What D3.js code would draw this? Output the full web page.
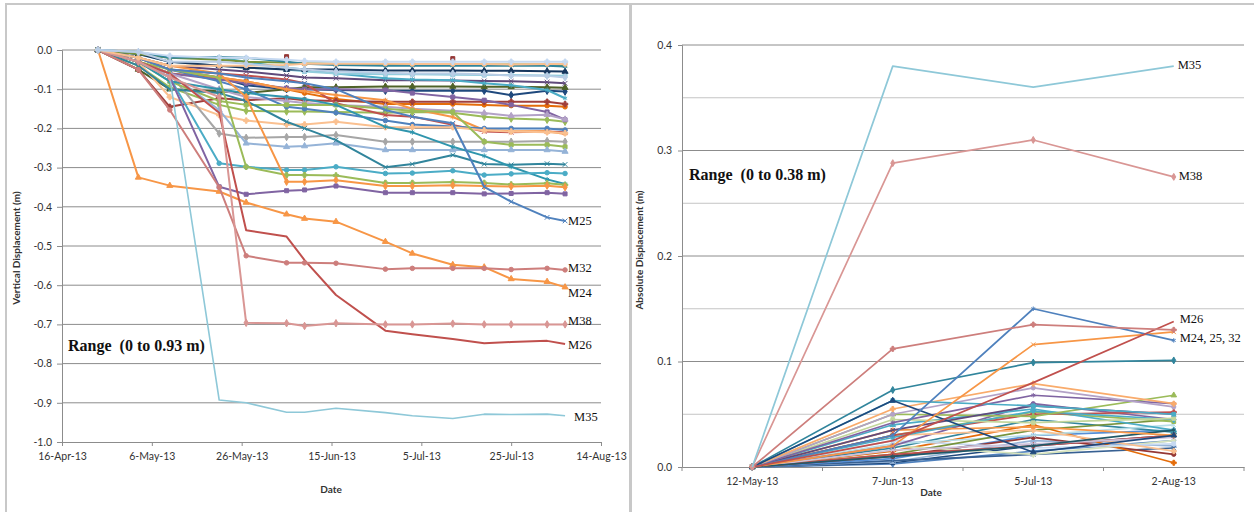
<!DOCTYPE html>
<html>
<head>
<meta charset="utf-8">
<script src="https://cdnjs.cloudflare.com/ajax/libs/d3/7.8.5/d3.min.js"></script>
<style>
body { margin: 0; background: #fff; }
svg text { font-family: Lato, "Open Sans", sans-serif; fill: #333; }
.serif { font-family: "Liberation Serif", "Times New Roman", serif; fill: #111; }
</style>
</head>
<body>
<svg id="chart" width="1254" height="512"></svg>
<script>
// ---- left chart data (vertical displacement, m) ----
var leftDates = ["2013-04-24", "2013-05-03", "2013-05-10", "2013-05-21", "2013-05-27", "2013-06-05", "2013-06-09",
    "2013-06-16", "2013-06-27", "2013-07-03", "2013-07-12", "2013-07-19", "2013-07-25", "2013-08-02", "2013-08-06"];
var leftTickDates = ["2013-04-16", "2013-05-06", "2013-05-26", "2013-06-15", "2013-07-05", "2013-07-25", "2013-08-14"];
var leftYTicks = [0, -0.1, -0.2, -0.3, -0.4, -0.5, -0.6, -0.7, -0.8, -0.9, -1.0];

var leftNames = ["M1", "M2", "M3", "M4", "M5", "M6", "M7", "M8", "M9", "M10", "M11", "M12", "M13", "M14", "M15", "M16",
    "M17", "M18", "M19", "M20", "M21", "M22", "M23", "M24", "M25", "M26", "M32", "M35", "M38",
    "M27", "M28", "M29", "M30", "M31", "M33", "M34"];
var leftValues = [
    [0, -0.02, -0.05, -0.07, -0.09, -0.1, -0.1, -0.102, -0.104, -0.104, -0.104, -0.104, -0.115, -0.104, -0.106],
    [null, null, null, null, null, -0.017, null, null, null, null, -0.022, null, null, null, null],
    [0, -0.05, -0.1, -0.105, -0.11, -0.1, -0.095, -0.095, -0.093, -0.093, -0.093, -0.094, -0.094, -0.095, -0.096],
    [0, -0.02, -0.04, -0.05, -0.055, -0.065, -0.07, -0.072, -0.077, -0.077, -0.078, -0.079, -0.08, -0.082, -0.085],
    [0, -0.01, -0.02, -0.02, -0.03, -0.045, -0.05, -0.06, -0.072, -0.075, -0.077, -0.085, -0.09, -0.102, -0.123],
    [0, -0.03, -0.06, -0.07, -0.08, -0.1, -0.11, -0.125, -0.138, -0.138, -0.138, -0.14, -0.142, -0.142, -0.145],
    [0, -0.05, -0.145, -0.123, -0.128, -0.123, -0.128, -0.13, -0.132, -0.132, -0.132, -0.132, -0.132, -0.132, -0.138],
    [0, -0.04, -0.095, -0.14, -0.155, -0.157, -0.157, -0.158, -0.16, -0.158, -0.16, -0.17, -0.175, -0.178, -0.183],
    [0, -0.03, -0.06, -0.075, -0.085, -0.097, -0.1, -0.1, -0.102, -0.11, -0.12, -0.128, -0.14, -0.158, -0.178],
    [0, -0.03, -0.06, -0.1, -0.12, -0.13, -0.135, -0.14, -0.145, -0.15, -0.155, -0.161, -0.168, -0.165, -0.177],
    [0, -0.02, -0.05, -0.06, -0.065, -0.075, -0.085, -0.136, -0.166, -0.17, -0.191, -0.208, -0.21, -0.208, -0.21],
    [0, -0.02, -0.05, -0.07, -0.08, -0.1, -0.105, -0.115, -0.128, -0.15, -0.171, -0.204, -0.207, -0.207, -0.214],
    [0, -0.02, -0.05, -0.08, -0.1, -0.145, -0.15, -0.16, -0.18, -0.19, -0.195, -0.2, -0.2, -0.2, -0.204],
    [0, -0.03, -0.12, -0.166, -0.18, -0.19, -0.19, -0.183, -0.197, -0.197, -0.197, -0.205, -0.208, -0.21, -0.212],
    [0, -0.03, -0.06, -0.213, -0.224, -0.222, -0.222, -0.217, -0.234, -0.234, -0.234, -0.234, -0.234, -0.232, -0.234],
    [0, -0.03, -0.08, -0.13, -0.14, -0.14, -0.14, -0.14, -0.15, -0.155, -0.158, -0.234, -0.242, -0.242, -0.247],
    [0, -0.03, -0.06, -0.153, -0.238, -0.247, -0.245, -0.238, -0.255, -0.255, -0.255, -0.255, -0.255, -0.255, -0.259],
    [0, -0.04, -0.1, -0.11, -0.13, -0.183, -0.2, -0.23, -0.299, -0.291, -0.268, -0.291, -0.293, -0.29, -0.292],
    [0, -0.03, -0.08, -0.1, -0.11, -0.12, -0.125, -0.14, -0.196, -0.21, -0.247, -0.27, -0.298, -0.33, -0.342],
    [0, -0.03, -0.07, -0.289, -0.298, -0.306, -0.306, -0.298, -0.315, -0.314, -0.308, -0.319, -0.316, -0.313, -0.315],
    [0, -0.03, -0.05, -0.07, -0.298, -0.319, -0.319, -0.32, -0.339, -0.339, -0.337, -0.339, -0.343, -0.34, -0.344],
    [0, -0.02, -0.04, -0.06, -0.12, -0.336, -0.336, -0.332, -0.347, -0.347, -0.345, -0.347, -0.348, -0.346, -0.35],
    [0, -0.03, -0.07, -0.349, -0.368, -0.359, -0.357, -0.347, -0.364, -0.364, -0.364, -0.367, -0.366, -0.364, -0.367],
    [0, -0.325, -0.346, -0.361, -0.389, -0.419, -0.43, -0.438, -0.489, -0.519, -0.548, -0.554, -0.584, -0.591, -0.605],
    [0, -0.02, -0.05, -0.06, -0.07, -0.08, -0.085, -0.1, -0.153, -0.17, -0.187, -0.349, -0.387, -0.427, -0.436],
    [0, -0.03, -0.06, -0.16, -0.46, -0.476, -0.536, -0.625, -0.716, -0.725, -0.737, -0.748, -0.745, -0.742, -0.75],
    [0, -0.05, -0.153, -0.35, -0.525, -0.543, -0.543, -0.544, -0.559, -0.557, -0.557, -0.557, -0.56, -0.557, -0.561],
    [0, -0.03, -0.07, -0.893, -0.9, -0.924, -0.924, -0.914, -0.925, -0.933, -0.94, -0.929, -0.93, -0.929, -0.933],
    [0, -0.03, -0.07, -0.12, -0.696, -0.697, -0.704, -0.697, -0.7, -0.7, -0.698, -0.7, -0.7, -0.7, -0.7],
    [0, -0.01, -0.03, -0.04, -0.045, -0.05, -0.055, -0.06, -0.062, -0.062, -0.063, -0.064, -0.064, -0.065, -0.066],
    [0, -0.01, -0.03, -0.04, -0.045, -0.05, -0.05, -0.05, -0.052, -0.052, -0.052, -0.053, -0.053, -0.054, -0.055],
    [0, -0.01, -0.02, -0.025, -0.03, -0.032, -0.034, -0.035, -0.036, -0.036, -0.036, -0.037, -0.037, -0.037, -0.038],
    [0, -0.005, -0.02, -0.018, -0.02, -0.03, -0.035, -0.038, -0.04, -0.04, -0.04, -0.04, -0.04, -0.04, -0.042],
    [0, -0.02, -0.04, -0.04, -0.04, -0.038, -0.035, -0.035, -0.035, -0.036, -0.036, -0.036, -0.037, -0.036, -0.036],
    [0, -0.005, -0.015, -0.02, -0.02, -0.025, -0.028, -0.03, -0.03, -0.03, -0.03, -0.03, -0.03, -0.03, -0.03],
    [0, -0.005, -0.03, -0.03, -0.035, -0.045, -0.05, -0.055, -0.058, -0.06, -0.06, -0.062, -0.065, -0.066, -0.07]
];
var leftLabelNames = ["M25", "M32", "M24", "M38", "M26", "M35"];

// ---- right chart data (absolute displacement, m) ----
var rightDates = ["12-May-13", "7-Jun-13", "5-Jul-13", "2-Aug-13"];
var rightYTicks = [0, 0.1, 0.2, 0.3, 0.4];
var rightMinorGrid = [0.05, 0.15, 0.25, 0.35];
var rightNames = ["R1", "R2", "R3", "R4", "R5", "R6", "R7", "R8", "R9", "R10", "R11", "R12", "R13", "R14", "R15",
    "R16", "R17", "R18", "R19", "R20", "R21", "R22", "R23", "R24", "R25", "R26", "R27", "R28", "R29",
    "M24", "M25", "M26", "M32", "M38", "M35"];
var rightValues = [
    [0, 0.003, 0.015, 0.025],
    [0, 0.004, 0.02, 0.03],
    [0, 0.005, 0.025, 0.02],
    [0, 0.006, 0.012, 0.018],
    [0, 0.008, 0.03, 0.035],
    [0, 0.01, 0.028, 0.012],
    [0, 0.015, 0.04, 0.004],
    [0, 0.02, 0.012, 0.025],
    [0, 0.025, 0.018, 0.022],
    [0, 0.018, 0.045, 0.033],
    [0, 0.022, 0.03, 0.04],
    [0, 0.012, 0.035, 0.045],
    [0, 0.02, 0.06, 0.045],
    [0, 0.03, 0.035, 0.015],
    [0, 0.012, 0.02, 0.03],
    [0, 0.03, 0.052, 0.043],
    [0, 0.04, 0.055, 0.035],
    [0, 0.016, 0.022, 0.028],
    [0, 0.01, 0.02, 0.035],
    [0, 0.035, 0.038, 0.03],
    [0, 0.03, 0.05, 0.052],
    [0, 0.028, 0.053, 0.045],
    [0, 0.045, 0.042, 0.046],
    [0, 0.05, 0.048, 0.068],
    [0, 0.035, 0.058, 0.05],
    [0, 0.042, 0.068, 0.06],
    [0, 0.05, 0.075, 0.057],
    [0, 0.055, 0.079, 0.06],
    [0, 0.063, 0.014, 0.03],
    [0, 0.02, 0.116, 0.128],
    [0, 0.03, 0.15, 0.12],
    [0, 0.025, 0.08, 0.138],
    [0, 0.112, 0.135, 0.13],
    [0, 0.288, 0.31, 0.275],
    [0, 0.38, 0.36, 0.38]
];
var rightExtra = [["R30", [0, 0.063, 0.058, 0.05]], ["R31", [0, 0.073, 0.099, 0.101]]];
var rightLabels = [["M35", "M35"], ["M38", "M38"], ["M26", "M26"], ["M24, 25, 32", "M25"]];

// ---- styling ----
var leftColors = ["#1f497d", "#953735", "#4f6228", "#604a7b", "#4bacc6", "#e46c0a", "#a0403d", "#9bbb59", "#8064a2",
    "#b3a2c7", "#c0504d", "#f79646", "#4f81bd", "#fac090", "#a6a6a6", "#9bbb59", "#95b3d7", "#31859c", "#2f95ad",
    "#4bacc6", "#9bbb59", "#f79646", "#8064a2", "#f79646", "#4f81bd", "#c0504d", "#cd7e7c", "#8ec8d8", "#d99694",
    "#93cddd", "#17375e", "#77933c", "#31859c", "#fac090", "#c6d9f1", "#b9cde5"];
var rightColors = ["#4f81bd", "#1f497d", "#95b3d7", "#376092", "#558ed5", "#953735", "#e46c0a", "#d7e4bd", "#c6d9f1",
    "#31859c", "#b7dee8", "#77933c", "#8064a2", "#fac090", "#c0504d", "#9bbb59", "#4bacc6", "#ccc1da", "#215968",
    "#f79646", "#c0504d", "#4bacc6", "#c3d69b", "#9bbb59", "#604a7b", "#8064a2", "#b3a2c7", "#f9ab6b", "#1f497d",
    "#f79646", "#4f81bd", "#c0504d", "#cd7e7c", "#d99694", "#8ec8d8"];
var rightExtraColors = ["#4bacc6", "#31859c"];
var labelShift = { "M25": [3, 0], "M32": [3, -2], "M24": [3, 5], "M38": [3, -4], "M26": [3, 1], "M35": [9, 1] };
var rightLabelShift = { "M35": [4, -1], "M38": [5, -1], "M26": [6, -3], "M24, 25, 32": [6, -3] };

var symbolTypes = [d3.symbolDiamond, d3.symbolSquare, d3.symbolTriangle, d3.symbolTimes || d3.symbolCross,
    d3.symbolAsterisk || d3.symbolStar, d3.symbolCircle, d3.symbolCross];

var svg = d3.select("#chart");
var parseDate = d3.timeParse("%Y-%m-%d");
var fmtDate = d3.timeFormat("%-d-%b-%y");
var fmtNum = d3.formatLocale({ decimal: ".", thousands: ",", grouping: [3], currency: ["", ""], minus: "-" }).format(".1f");

// panel frames
svg.append("rect").attr("x", 6).attr("y", 4).attr("width", 624).attr("height", 520)
    .attr("fill", "none").attr("stroke", "#c8c8c8").attr("stroke-width", 2);
svg.append("rect").attr("x", 631).attr("y", 4).attr("width", 640).attr("height", 520)
    .attr("fill", "none").attr("stroke", "#c8c8c8").attr("stroke-width", 2);

function drawLeft() {
    var x = d3.scaleTime()
        .domain([parseDate("2013-04-16"), parseDate("2013-08-14")])
        .range([62, 601]);
    var y = d3.scaleLinear().domain([-1, 0]).range([442, 50]);
    var g = svg.append("g");

    g.selectAll(".grid").data(leftYTicks.slice(0, 10)).enter().append("line")
        .attr("x1", 62).attr("x2", 601)
        .attr("y1", function(d) { return y(d); }).attr("y2", function(d) { return y(d); })
        .attr("stroke", "#8c8c8c").attr("stroke-width", 1);

    var yAxis = g.append("g").attr("transform", "translate(62,0)")
        .call(d3.axisLeft(y).tickValues(leftYTicks).tickSize(5).tickPadding(5)
            .tickFormat(function(d) { return fmtNum(d || 0); }));
    var xAxis = g.append("g").attr("transform", "translate(0,442)")
        .call(d3.axisBottom(x).tickValues(leftTickDates.map(parseDate)).tickSize(4).tickPadding(7)
            .tickFormat(fmtDate));
    [yAxis, xAxis].forEach(function(a) {
        a.select(".domain").attr("stroke", "#8c8c8c");
        a.selectAll(".tick line").attr("stroke", "#8c8c8c");
        a.selectAll("text").attr("font-size", "10.5px").attr("fill", "#333");
    });

    var line = d3.line()
        .defined(function(d) { return d.v != null; })
        .x(function(d) { return x(d.date); })
        .y(function(d) { return y(d.v); });

    leftValues.forEach(function(vals, i) {
        var pts = vals.map(function(v, j) { return { date: parseDate(leftDates[j]), v: v }; });
        var col = leftColors[i];
        g.append("path").datum(pts)
            .attr("d", line).attr("fill", "none")
            .attr("stroke", col).attr("stroke-width", leftNames[i] == "M35" ? 1.6 : 2)
            .attr("stroke-linejoin", "round");
        if (leftNames[i] == "M35" || leftNames[i] == "M26") return;
        g.selectAll(null).data(pts.filter(function(d) { return d.v != null; })).enter().append("path")
            .attr("transform", function(d) { return "translate(" + x(d.date) + "," + y(d.v) + ")"; })
            .attr("d", d3.symbol().type(symbolTypes[i % symbolTypes.length]).size(16))
            .attr("fill", col).attr("stroke", col).attr("stroke-width", 1);
    });

    leftLabelNames.forEach(function(name) {
        var i = leftNames.indexOf(name);
        var vals = leftValues[i];
        var last = vals.length - 1;
        var sh = labelShift[name];
        g.append("text").attr("class", "serif")
            .attr("x", x(parseDate(leftDates[last])) + sh[0])
            .attr("y", y(vals[last]) + sh[1])
            .attr("dy", "0.35em").attr("font-size", "12.5px")
            .text(name);
    });

    g.append("text").attr("class", "serif")
        .attr("x", 68).attr("y", 351)
        .attr("font-size", "16px").attr("font-weight", "bold")
        .style("white-space", "pre")
        .text("Range  (0 to 0.93 m)");

    g.append("text").attr("x", 331).attr("y", 493).attr("text-anchor", "middle")
        .attr("font-size", "10px").attr("font-weight", "bold").text("Date");
    g.append("text").attr("transform", "translate(20,248) rotate(-90)").attr("text-anchor", "middle")
        .attr("font-size", "10px").attr("font-weight", "bold").text("Vertical Displacement (m)");
}

function drawRight() {
    var x = d3.scaleBand().domain(rightDates).range([682, 1244]);
    var y = d3.scaleLinear().domain([0, 0.4]).range([467, 45]);
    var g = svg.append("g");

    g.selectAll(".minor").data(rightMinorGrid).enter().append("line")
        .attr("x1", 682).attr("x2", 1244)
        .attr("y1", function(d) { return y(d); }).attr("y2", function(d) { return y(d); })
        .attr("stroke", "#c4c4c4").attr("stroke-width", 1);
    g.selectAll(".major").data(rightYTicks.slice(1)).enter().append("line")
        .attr("x1", 682).attr("x2", 1244)
        .attr("y1", function(d) { return y(d); }).attr("y2", function(d) { return y(d); })
        .attr("stroke", "#8c8c8c").attr("stroke-width", 1);

    var yAxis = g.append("g").attr("transform", "translate(682,0)")
        .call(d3.axisLeft(y).tickValues(rightYTicks).tickSize(4).tickPadding(6).tickFormat(fmtNum));
    var xAxis = g.append("g").attr("transform", "translate(0,467)")
        .call(d3.axisBottom(x).tickSize(0).tickPadding(11));
    xAxis.selectAll(".bound").data(d3.range(rightDates.length + 1)).enter().append("line")
        .attr("x1", function(d) { return 682 + d * x.step(); })
        .attr("x2", function(d) { return 682 + d * x.step(); })
        .attr("y1", 0).attr("y2", 4).attr("stroke", "#8c8c8c");
    [yAxis, xAxis].forEach(function(a) {
        a.select(".domain").attr("stroke", "#8c8c8c");
        a.selectAll(".tick line").attr("stroke", "#8c8c8c");
        a.selectAll("text").attr("font-size", "10.5px").attr("fill", "#333");
    });

    var cx = function(d) { return x(d) + x.bandwidth() / 2; };
    var line = d3.line()
        .x(function(d) { return cx(d.cat); })
        .y(function(d) { return y(d.v); });

    var all = rightValues.map(function(v, i) { return { name: rightNames[i], vals: v, col: rightColors[i] }; });
    rightExtra.forEach(function(e, i) { all.splice(28, 0, { name: e[0], vals: e[1], col: rightExtraColors[i] }); });

    all.forEach(function(s, i) {
        var pts = s.vals.map(function(v, j) { return { cat: rightDates[j], v: v }; });
        g.append("path").datum(pts)
            .attr("d", line).attr("fill", "none")
            .attr("stroke", s.col).attr("stroke-width", 1.7)
            .attr("stroke-linejoin", "round");
        if (s.name == "M35" || s.name == "M26") return;
        g.selectAll(null).data(pts).enter().append("path")
            .attr("transform", function(d) { return "translate(" + cx(d.cat) + "," + y(d.v) + ")"; })
            .attr("d", d3.symbol().type(symbolTypes[i % symbolTypes.length]).size(14))
            .attr("fill", s.col).attr("stroke", s.col).attr("stroke-width", 1);
    });

    rightLabels.forEach(function(l) {
        var s = all.filter(function(d) { return d.name == l[1]; })[0];
        var last = s.vals.length - 1;
        var sh = rightLabelShift[l[0]];
        var ly = y(s.vals[last]) + sh[1];
        if (l[0] == "M26") ly = y(0.138) - 3;
        if (l[0] == "M24, 25, 32") ly = y(0.12) - 3;
        g.append("text").attr("class", "serif")
            .attr("x", cx(rightDates[last]) + sh[0])
            .attr("y", ly)
            .attr("dy", "0.35em").attr("font-size", "12.5px")
            .text(l[0]);
    });

    g.append("text").attr("class", "serif")
        .attr("x", 689).attr("y", 180)
        .attr("font-size", "16px").attr("font-weight", "bold")
        .style("white-space", "pre")
        .text("Range  (0 to 0.38 m)");

    g.append("text").attr("x", 931).attr("y", 496).attr("text-anchor", "middle")
        .attr("font-size", "10px").attr("font-weight", "bold").text("Date");
    g.append("text").attr("transform", "translate(643,250) rotate(-90)").attr("text-anchor", "middle")
        .attr("font-size", "10px").attr("font-weight", "bold").text("Absolute Displacement (m)");
}

drawLeft();
drawRight();
</script>
</body>
</html>
